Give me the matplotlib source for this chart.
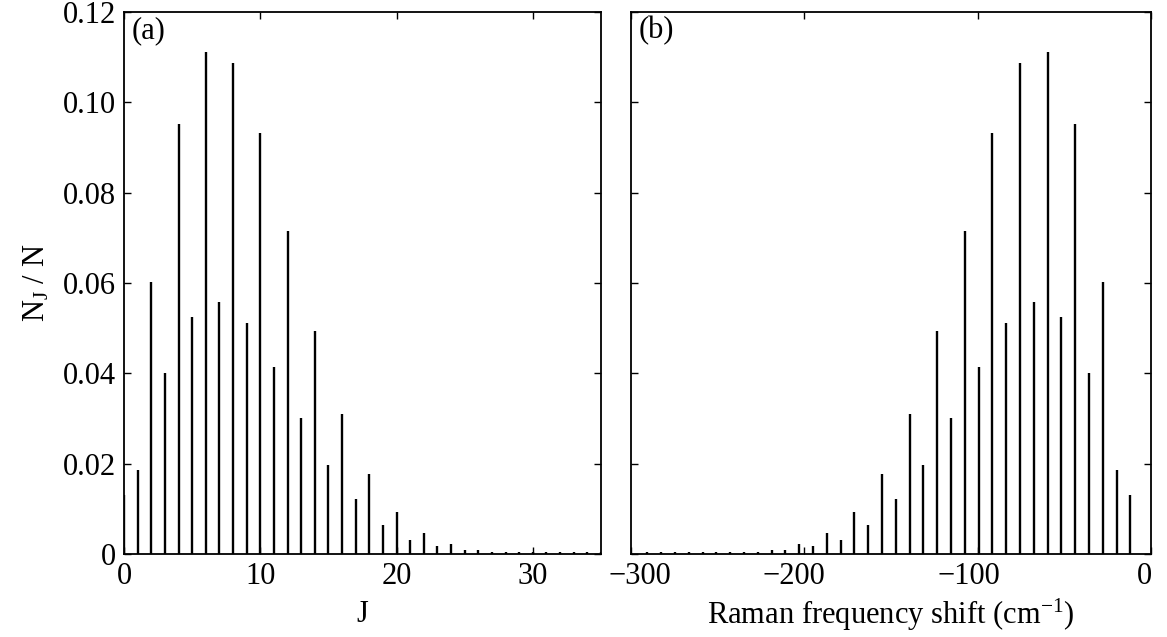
import matplotlib
matplotlib.use("Agg")
import matplotlib.pyplot as plt
from matplotlib.transforms import ScaledTranslation

plt.rcParams['font.family'] = ['Liberation Serif', 'DejaVu Serif']
plt.rcParams['mathtext.fontset'] = 'custom'
plt.rcParams['mathtext.rm'] = 'Liberation Serif'
plt.rcParams['mathtext.it'] = 'Liberation Serif:italic'

# Rotational quantum number J
J = [0, 1, 2, 3, 4, 5, 6, 7, 8, 9, 10, 11, 12, 13, 14, 15, 16, 17,
     18, 19, 20, 21, 22, 23, 24, 25, 26, 27, 28, 29, 30, 31, 32, 33, 34, 35]

# Relative population N_J / N
pop = [0.0130, 0.0187, 0.0603, 0.0400, 0.0951, 0.0525, 0.1111, 0.0558,
       0.1088, 0.0512, 0.0932, 0.0413, 0.0714, 0.0300, 0.0493, 0.0197,
       0.0310, 0.0121, 0.0178, 0.0064, 0.0093, 0.0032, 0.0046, 0.0017,
       0.0022, 0.0009, 0.0008, 0.0005, 0.0005, 0.0004, 0.0004, 0.0004,
       0.0004, 0.0004, 0.0004, 0.0004]

# Raman frequency shift (cm^-1) for each J
shift = [-11.9, -19.9, -27.9, -35.8, -43.8, -51.7, -59.7, -67.7, -75.6,
         -83.6, -91.5, -99.5, -107.5, -115.4, -123.4, -131.3, -139.3,
         -147.3, -155.2, -163.2, -171.1, -179.1, -187.1, -195.0, -203.0,
         -210.9, -218.9, -226.9, -234.8, -242.8, -250.7, -258.7, -266.7,
         -274.6, -282.6, -290.5]

yticks = [0, 0.02, 0.04, 0.06, 0.08, 0.10, 0.12]
yticklabels = ['0', '0.02', '0.04', '0.06', '0.08', '0.10', '0.12']
xticks_b = [-300, -200, -100, 0]

fig = plt.figure(figsize=(11.67, 6.37), dpi=100)
ax1 = fig.add_axes([0.1063, 0.1303, 0.4087, 0.8509])
ax2 = fig.add_axes([0.5407, 0.1303, 0.4456, 0.8509])

FS = 22

for ax in (ax1, ax2):
    ax.set_ylim(0, 0.12)
    ax.set_yticks(yticks)
    ax.tick_params(direction='in', top=True, right=True, length=5,
                   width=1.0, labelsize=FS, pad=6)
    for s in ax.spines.values():
        s.set_linewidth(1.3)

ax1.vlines(J, 0, pop, colors='black', linewidth=1.7)
ax1.set_xlim(0, 35)
ax1.set_xticks([0, 10, 20, 30])
ax1.set_yticklabels(yticklabels)
ax1.set_xlabel('J', fontsize=FS, labelpad=6)
ax1.set_ylabel('N$_\\mathrm{J}$ / N', fontsize=FS, labelpad=8)
ax1.text(0.015, 0.993, '(a)', transform=ax1.transAxes, fontsize=FS,
         va='top', ha='left')

ax2.vlines(shift, 0, pop, colors='black', linewidth=1.7)
ax2.set_xlim(-300, 0)
ax2.set_xticks(xticks_b)
ax2.set_yticklabels([])
ax2.set_xlabel('Raman frequency shift (cm$^{-1}$)', fontsize=FS, labelpad=4)
ax2.text(0.015, 0.993, '(b)', transform=ax2.transAxes, fontsize=FS,
         va='top', ha='left')

# label offsets (pixels) as in the reference rendering
offs = [9, -10, -9, -7]
for lab, dx in zip(ax2.get_xticklabels(), offs):
    lab.set_transform(lab.get_transform() +
                      ScaledTranslation(dx / 100, 0, fig.dpi_scale_trans))

fig.savefig('out.png', dpi=100)
